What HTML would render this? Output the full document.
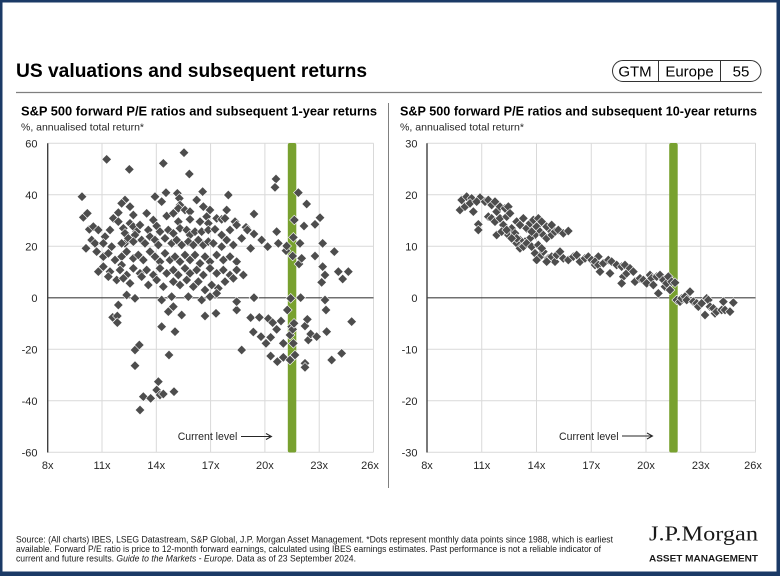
<!DOCTYPE html>
<html><head><meta charset="utf-8"><style>
html,body{margin:0;padding:0;background:#fff;}
svg{display:block;font-family:"Liberation Sans",Arial,sans-serif;}
</style></head><body>
<svg width="780" height="576" viewBox="0 0 780 576" xmlns="http://www.w3.org/2000/svg">
<defs>
<path id="d" d="M0,-14.5L14.5,0L0,14.5L-14.5,0Z" fill="#4d4d4d" stroke="#fff" stroke-width="1.8"/>
</defs>
<rect width="780" height="576" fill="#fff"/>
<rect x="1.2" y="1.2" width="777.6" height="573.6" fill="none" stroke="#1b3a66" stroke-width="2.6"/>
<rect x="0" y="571.5" width="780" height="4.5" fill="#1b3a66"/>
<rect x="776.5" y="0" width="3.5" height="576" fill="#1b3a66"/>

<text x="16" y="77" font-size="19" font-weight="bold" fill="#000" textLength="351" lengthAdjust="spacingAndGlyphs">US valuations and subsequent returns</text>
<line x1="16" y1="92.5" x2="762" y2="92.5" stroke="#7f7f7f" stroke-width="1.2"/>
<rect x="612.5" y="60.5" width="148.5" height="21" rx="10.5" fill="#fff" stroke="#333" stroke-width="1"/>
<line x1="658.5" y1="60.5" x2="658.5" y2="81.5" stroke="#333" stroke-width="1"/>
<line x1="720.5" y1="60.5" x2="720.5" y2="81.5" stroke="#333" stroke-width="1"/>
<text x="635" y="76.5" font-size="15" text-anchor="middle" fill="#000">GTM</text>
<text x="689.5" y="76.5" font-size="15" text-anchor="middle" fill="#000">Europe</text>
<text x="741" y="76.5" font-size="15" text-anchor="middle" fill="#000">55</text>

<text x="21" y="115.5" font-size="13" font-weight="bold" textLength="356" lengthAdjust="spacingAndGlyphs">S&amp;P 500 forward P/E ratios and subsequent 1-year returns</text>
<text x="21" y="130.5" font-size="10.5" fill="#262626" textLength="123" lengthAdjust="spacingAndGlyphs">%, annualised total return*</text>
<text x="400" y="115.5" font-size="13" font-weight="bold" textLength="357" lengthAdjust="spacingAndGlyphs">S&amp;P 500 forward P/E ratios and subsequent 10-year returns</text>
<text x="400" y="130.5" font-size="10.5" fill="#262626" textLength="124" lengthAdjust="spacingAndGlyphs">%, annualised total return*</text>

<line x1="388.5" y1="103" x2="388.5" y2="488" stroke="#808080" stroke-width="1"/>

<!-- LEFT CHART -->
<g stroke="#d9d9d9" stroke-width="1">
<line x1="102" y1="143.3" x2="102" y2="452.3"/>
<line x1="156.3" y1="143.3" x2="156.3" y2="452.3"/>
<line x1="210.6" y1="143.3" x2="210.6" y2="452.3"/>
<line x1="264.9" y1="143.3" x2="264.9" y2="452.3"/>
<line x1="319.2" y1="143.3" x2="319.2" y2="452.3"/>
<line x1="373.5" y1="143.3" x2="373.5" y2="452.3"/>
<line x1="47.7" y1="143.3" x2="373.5" y2="143.3"/>
<line x1="47.7" y1="194.8" x2="373.5" y2="194.8"/>
<line x1="47.7" y1="246.3" x2="373.5" y2="246.3"/>
<line x1="47.7" y1="349.3" x2="373.5" y2="349.3"/>
<line x1="47.7" y1="400.8" x2="373.5" y2="400.8"/>
<line x1="47.7" y1="452.3" x2="373.5" y2="452.3"/>
</g>
<line x1="47.7" y1="297.8" x2="373.5" y2="297.8" stroke="#404040" stroke-width="1.2"/>
<line x1="47.7" y1="143.3" x2="47.7" y2="452.5" stroke="#404040" stroke-width="1.4"/>
<rect x="287.8" y="143" width="8.5" height="309.5" rx="2" fill="#78a12f"/>
<g font-size="11" fill="#262626" text-anchor="end">
<text x="37.5" y="147.3">60</text><text x="37.5" y="198.8">40</text><text x="37.5" y="250.3">20</text><text x="37.5" y="301.8">0</text><text x="37.5" y="353.3">-20</text><text x="37.5" y="404.8">-40</text><text x="37.5" y="456.3">-60</text>
</g>
<g font-size="11" fill="#262626" text-anchor="middle">
<text x="47.7" y="469">8x</text><text x="102" y="469">11x</text><text x="156.3" y="469">14x</text><text x="210.6" y="469">17x</text><text x="264.9" y="469">20x</text><text x="319.2" y="469">23x</text><text x="370" y="469">26x</text>
</g>
<text x="177.7" y="440" font-size="11" fill="#262626" textLength="59.6" lengthAdjust="spacingAndGlyphs">Current level</text>
<g stroke="#262626" stroke-width="1" fill="none"><line x1="241" y1="436.5" x2="271" y2="436.5"/><polyline points="266,433.5 271.5,436.5 266,439.5"/></g>

<g transform="translate(0,130) scale(0.333333)">
<use href="#d" x="246" y="200"/><use href="#d" x="250" y="262"/><use href="#d" x="262" y="250"/><use href="#d" x="268" y="298"/><use href="#d" x="258" y="355"/>
<use href="#d" x="320" y="88"/><use href="#d" x="388" y="118"/><use href="#d" x="490" y="100"/><use href="#d" x="552" y="68"/><use href="#d" x="568" y="132"/>
<use href="#d" x="762" y="252"/><use href="#d" x="738" y="292"/><use href="#d" x="742" y="300"/><use href="#d" x="762" y="312"/><use href="#d" x="752" y="355"/><use href="#d" x="730" y="435"/><use href="#d" x="725" y="325"/><use href="#d" x="785" y="330"/><use href="#d" x="803" y="350"/><use href="#d" x="830" y="305"/><use href="#d" x="835" y="340"/><use href="#d" x="858" y="362"/><use href="#d" x="860" y="348"/><use href="#d" x="828" y="147"/><use href="#d" x="825" y="172"/><use href="#d" x="880" y="322"/><use href="#d" x="878" y="378"/><use href="#d" x="883" y="270"/><use href="#d" x="895" y="188"/><use href="#d" x="900" y="340"/><use href="#d" x="897" y="402"/><use href="#d" x="905" y="385"/><use href="#d" x="912" y="288"/><use href="#d" x="920" y="222"/><use href="#d" x="945" y="283"/><use href="#d" x="945" y="378"/><use href="#d" x="960" y="263"/><use href="#d" x="965" y="457"/><use href="#d" x="968" y="340"/><use href="#d" x="968" y="410"/><use href="#d" x="975" y="435"/><use href="#d" x="1003" y="365"/><use href="#d" x="1015" y="425"/><use href="#d" x="1045" y="425"/><use href="#d" x="1028" y="447"/><use href="#d" x="762" y="503"/><use href="#d" x="872" y="505"/><use href="#d" x="902" y="503"/><use href="#d" x="975" y="510"/><use href="#d" x="978" y="540"/><use href="#d" x="862" y="540"/>
<use href="#d" x="338" y="562"/><use href="#d" x="352" y="558"/><use href="#d" x="352" y="578"/><use href="#d" x="405" y="660"/><use href="#d" x="418" y="645"/><use href="#d" x="405" y="707"/><use href="#d" x="430" y="800"/><use href="#d" x="452" y="805"/><use href="#d" x="420" y="840"/><use href="#d" x="475" y="755"/><use href="#d" x="470" y="780"/><use href="#d" x="480" y="795"/><use href="#d" x="490" y="792"/><use href="#d" x="522" y="785"/><use href="#d" x="485" y="590"/><use href="#d" x="525" y="605"/><use href="#d" x="507" y="675"/><use href="#d" x="505" y="545"/><use href="#d" x="545" y="555"/><use href="#d" x="615" y="558"/><use href="#d" x="648" y="550"/><use href="#d" x="725" y="660"/><use href="#d" x="710" y="540"/><use href="#d" x="752" y="563"/><use href="#d" x="760" y="606"/><use href="#d" x="778" y="562"/><use href="#d" x="805" y="566"/><use href="#d" x="783" y="620"/><use href="#d" x="798" y="640"/><use href="#d" x="812" y="622"/><use href="#d" x="818" y="578"/><use href="#d" x="830" y="598"/><use href="#d" x="843" y="573"/><use href="#d" x="812" y="678"/><use href="#d" x="832" y="695"/><use href="#d" x="850" y="682"/><use href="#d" x="850" y="640"/><use href="#d" x="875" y="590"/><use href="#d" x="870" y="615"/><use href="#d" x="878" y="598"/><use href="#d" x="882" y="580"/><use href="#d" x="880" y="640"/><use href="#d" x="885" y="675"/><use href="#d" x="870" y="690"/><use href="#d" x="915" y="588"/><use href="#d" x="922" y="568"/><use href="#d" x="925" y="630"/><use href="#d" x="915" y="700"/><use href="#d" x="915" y="712"/><use href="#d" x="932" y="612"/><use href="#d" x="950" y="620"/><use href="#d" x="980" y="605"/><use href="#d" x="995" y="690"/><use href="#d" x="1025" y="670"/><use href="#d" x="1055" y="575"/>
</g>
<g transform="translate(90,190) scale(0.333333)">
<use href="#d" x="195" y="20"/><use href="#d" x="228" y="8"/><use href="#d" x="262" y="10"/><use href="#d" x="268" y="25"/><use href="#d" x="338" y="5"/><use href="#d" x="415" y="15"/>
<use href="#d" x="105" y="30"/><use href="#d" x="95" y="40"/><use href="#d" x="120" y="50"/><use href="#d" x="270" y="45"/><use href="#d" x="265" y="55"/><use href="#d" x="285" y="60"/><use href="#d" x="300" y="65"/><use href="#d" x="340" y="50"/><use href="#d" x="85" y="68"/><use href="#d" x="70" y="85"/><use href="#d" x="85" y="95"/><use href="#d" x="230" y="78"/><use href="#d" x="265" y="95"/><use href="#d" x="350" y="80"/><use href="#d" x="380" y="85"/><use href="#d" x="395" y="88"/><use href="#d" x="405" y="85"/><use href="#d" x="300" y="88"/><use href="#d" x="330" y="95"/><use href="#d" x="355" y="100"/><use href="#d" x="435" y="95"/>
<use href="#d" x="130" y="75"/><use href="#d" x="170" y="70"/><use href="#d" x="190" y="90"/><use href="#d" x="60" y="120"/><use href="#d" x="45" y="140"/><use href="#d" x="215" y="35"/><use href="#d" x="250" y="70"/><use href="#d" x="320" y="30"/><use href="#d" x="360" y="60"/><use href="#d" x="410" y="60"/>
<use href="#d" x="10" y="110"/><use href="#d" x="25" y="120"/><use href="#d" x="120" y="100"/><use href="#d" x="130" y="110"/><use href="#d" x="150" y="105"/><use href="#d" x="100" y="115"/><use href="#d" x="105" y="130"/><use href="#d" x="140" y="125"/><use href="#d" x="175" y="120"/><use href="#d" x="200" y="108"/><use href="#d" x="210" y="125"/><use href="#d" x="235" y="120"/><use href="#d" x="250" y="130"/><use href="#d" x="270" y="115"/><use href="#d" x="290" y="120"/><use href="#d" x="300" y="135"/><use href="#d" x="315" y="125"/><use href="#d" x="335" y="125"/><use href="#d" x="355" y="120"/><use href="#d" x="375" y="118"/><use href="#d" x="395" y="135"/><use href="#d" x="420" y="120"/><use href="#d" x="440" y="105"/>
<use href="#d" x="135" y="135"/><use href="#d" x="105" y="160"/>
<use href="#d" x="5" y="150"/><use href="#d" x="15" y="160"/><use href="#d" x="40" y="160"/><use href="#d" x="65" y="170"/><use href="#d" x="95" y="160"/><use href="#d" x="115" y="145"/><use href="#d" x="130" y="155"/><use href="#d" x="155" y="150"/><use href="#d" x="165" y="160"/><use href="#d" x="180" y="140"/><use href="#d" x="195" y="150"/><use href="#d" x="205" y="165"/><use href="#d" x="225" y="145"/><use href="#d" x="245" y="160"/><use href="#d" x="260" y="150"/><use href="#d" x="275" y="165"/><use href="#d" x="295" y="155"/><use href="#d" x="310" y="165"/><use href="#d" x="325" y="150"/><use href="#d" x="340" y="165"/><use href="#d" x="355" y="155"/><use href="#d" x="370" y="160"/><use href="#d" x="395" y="170"/><use href="#d" x="410" y="150"/><use href="#d" x="430" y="165"/>
<use href="#d" x="20" y="185"/><use href="#d" x="40" y="200"/><use href="#d" x="55" y="190"/><use href="#d" x="75" y="210"/><use href="#d" x="95" y="200"/><use href="#d" x="110" y="185"/><use href="#d" x="130" y="205"/><use href="#d" x="145" y="195"/><use href="#d" x="160" y="210"/><use href="#d" x="180" y="185"/><use href="#d" x="195" y="200"/><use href="#d" x="210" y="215"/><use href="#d" x="225" y="190"/><use href="#d" x="240" y="210"/><use href="#d" x="255" y="200"/><use href="#d" x="270" y="215"/><use href="#d" x="285" y="195"/><use href="#d" x="300" y="210"/><use href="#d" x="315" y="195"/><use href="#d" x="330" y="220"/><use href="#d" x="345" y="200"/><use href="#d" x="360" y="215"/><use href="#d" x="380" y="195"/><use href="#d" x="400" y="210"/><use href="#d" x="420" y="200"/><use href="#d" x="440" y="215"/>
<use href="#d" x="95" y="225"/>
<use href="#d" x="25" y="245"/><use href="#d" x="40" y="230"/><use href="#d" x="60" y="245"/><use href="#d" x="90" y="240"/><use href="#d" x="110" y="255"/><use href="#d" x="130" y="235"/><use href="#d" x="150" y="250"/><use href="#d" x="170" y="240"/><use href="#d" x="190" y="255"/><use href="#d" x="210" y="235"/><use href="#d" x="230" y="250"/><use href="#d" x="250" y="240"/><use href="#d" x="265" y="255"/><use href="#d" x="285" y="235"/><use href="#d" x="300" y="250"/><use href="#d" x="320" y="240"/><use href="#d" x="340" y="255"/><use href="#d" x="360" y="235"/><use href="#d" x="380" y="250"/><use href="#d" x="400" y="240"/><use href="#d" x="420" y="255"/><use href="#d" x="440" y="240"/>
<use href="#d" x="55" y="260"/><use href="#d" x="80" y="270"/>
<use href="#d" x="100" y="265"/><use href="#d" x="120" y="280"/><use href="#d" x="155" y="260"/><use href="#d" x="175" y="285"/><use href="#d" x="200" y="270"/><use href="#d" x="220" y="290"/><use href="#d" x="250" y="275"/><use href="#d" x="270" y="285"/><use href="#d" x="290" y="270"/><use href="#d" x="310" y="290"/><use href="#d" x="325" y="275"/><use href="#d" x="345" y="300"/><use href="#d" x="365" y="285"/><use href="#d" x="385" y="295"/><use href="#d" x="405" y="275"/><use href="#d" x="430" y="265"/>
<use href="#d" x="110" y="315"/><use href="#d" x="135" y="325"/><use href="#d" x="215" y="330"/><use href="#d" x="245" y="320"/><use href="#d" x="295" y="320"/><use href="#d" x="335" y="330"/><use href="#d" x="360" y="320"/><use href="#d" x="380" y="310"/><use href="#d" x="440" y="335"/><use href="#d" x="85" y="345"/><use href="#d" x="250" y="350"/>
</g>

<!-- RIGHT CHART -->
<g stroke="#d9d9d9" stroke-width="1">
<line x1="481.75" y1="143.3" x2="481.75" y2="452.3"/>
<line x1="536.5" y1="143.3" x2="536.5" y2="452.3"/>
<line x1="591.25" y1="143.3" x2="591.25" y2="452.3"/>
<line x1="646" y1="143.3" x2="646" y2="452.3"/>
<line x1="700.75" y1="143.3" x2="700.75" y2="452.3"/>
<line x1="755.5" y1="143.3" x2="755.5" y2="452.3"/>
<line x1="427" y1="143.3" x2="755.5" y2="143.3"/>
<line x1="427" y1="194.8" x2="755.5" y2="194.8"/>
<line x1="427" y1="246.3" x2="755.5" y2="246.3"/>
<line x1="427" y1="349.3" x2="755.5" y2="349.3"/>
<line x1="427" y1="400.8" x2="755.5" y2="400.8"/>
<line x1="427" y1="452.3" x2="755.5" y2="452.3"/>
</g>
<line x1="427" y1="297.8" x2="755.5" y2="297.8" stroke="#404040" stroke-width="1.2"/>
<line x1="427" y1="143.3" x2="427" y2="452.5" stroke="#404040" stroke-width="1.4"/>
<rect x="669.2" y="143" width="8.5" height="309.5" rx="2" fill="#78a12f"/>
<g font-size="11" fill="#262626" text-anchor="end">
<text x="417.5" y="147.3">30</text><text x="417.5" y="198.8">20</text><text x="417.5" y="250.3">10</text><text x="417.5" y="301.8">0</text><text x="417.5" y="353.3">-10</text><text x="417.5" y="404.8">-20</text><text x="417.5" y="456.3">-30</text>
</g>
<g font-size="11" fill="#262626" text-anchor="middle">
<text x="427" y="469">8x</text><text x="481.75" y="469">11x</text><text x="536.5" y="469">14x</text><text x="591.25" y="469">17x</text><text x="646" y="469">20x</text><text x="700.75" y="469">23x</text><text x="753" y="469">26x</text>
</g>
<text x="559" y="440" font-size="11" fill="#262626" textLength="59.6" lengthAdjust="spacingAndGlyphs">Current level</text>
<g stroke="#262626" stroke-width="1" fill="none"><line x1="622" y1="436" x2="652" y2="436"/><polyline points="647,433 652.5,436 647,439"/></g>

<g transform="translate(420,185) scale(0.333333)">
<use href="#d" x="125" y="45"/><use href="#d" x="140" y="35"/><use href="#d" x="155" y="40"/><use href="#d" x="180" y="38"/><use href="#d" x="120" y="75"/><use href="#d" x="135" y="65"/><use href="#d" x="150" y="55"/><use href="#d" x="160" y="80"/><use href="#d" x="170" y="50"/><use href="#d" x="195" y="50"/><use href="#d" x="205" y="45"/><use href="#d" x="215" y="60"/><use href="#d" x="225" y="50"/><use href="#d" x="230" y="80"/><use href="#d" x="240" y="65"/><use href="#d" x="255" y="70"/><use href="#d" x="265" y="65"/><use href="#d" x="205" y="95"/><use href="#d" x="215" y="100"/><use href="#d" x="225" y="110"/><use href="#d" x="240" y="100"/><use href="#d" x="250" y="120"/><use href="#d" x="260" y="95"/><use href="#d" x="270" y="85"/><use href="#d" x="175" y="118"/><use href="#d" x="175" y="135"/><use href="#d" x="230" y="150"/><use href="#d" x="245" y="140"/><use href="#d" x="265" y="150"/><use href="#d" x="275" y="130"/><use href="#d" x="285" y="145"/><use href="#d" x="290" y="110"/><use href="#d" x="300" y="120"/><use href="#d" x="310" y="100"/><use href="#d" x="320" y="130"/><use href="#d" x="330" y="115"/><use href="#d" x="340" y="105"/><use href="#d" x="350" y="125"/><use href="#d" x="360" y="140"/><use href="#d" x="345" y="150"/><use href="#d" x="330" y="160"/><use href="#d" x="315" y="170"/><use href="#d" x="300" y="165"/><use href="#d" x="290" y="175"/><use href="#d" x="300" y="190"/><use href="#d" x="310" y="185"/><use href="#d" x="320" y="175"/><use href="#d" x="335" y="185"/><use href="#d" x="355" y="180"/><use href="#d" x="370" y="150"/><use href="#d" x="380" y="160"/><use href="#d" x="390" y="135"/><use href="#d" x="395" y="150"/><use href="#d" x="405" y="140"/><use href="#d" x="415" y="135"/><use href="#d" x="430" y="145"/><use href="#d" x="445" y="138"/><use href="#d" x="345" y="205"/><use href="#d" x="360" y="215"/><use href="#d" x="370" y="200"/><use href="#d" x="385" y="220"/><use href="#d" x="395" y="215"/><use href="#d" x="405" y="230"/><use href="#d" x="410" y="210"/><use href="#d" x="420" y="200"/><use href="#d" x="430" y="220"/><use href="#d" x="445" y="225"/><use href="#d" x="460" y="215"/><use href="#d" x="470" y="210"/><use href="#d" x="480" y="230"/><use href="#d" x="495" y="220"/><use href="#d" x="505" y="215"/><use href="#d" x="515" y="225"/><use href="#d" x="525" y="240"/><use href="#d" x="535" y="215"/><use href="#d" x="380" y="230"/><use href="#d" x="350" y="225"/><use href="#d" x="365" y="190"/><use href="#d" x="290" y="160"/><use href="#d" x="275" y="160"/><use href="#d" x="260" y="135"/><use href="#d" x="335" y="140"/><use href="#d" x="355" y="100"/><use href="#d" x="365" y="110"/><use href="#d" x="380" y="125"/><use href="#d" x="395" y="120"/>
</g>
<g transform="translate(590,250) scale(0.333333)">
<use href="#d" x="15" y="35"/><use href="#d" x="25" y="45"/><use href="#d" x="30" y="65"/><use href="#d" x="40" y="40"/><use href="#d" x="55" y="30"/><use href="#d" x="60" y="70"/><use href="#d" x="65" y="35"/><use href="#d" x="80" y="45"/><use href="#d" x="95" y="50"/><use href="#d" x="100" y="80"/><use href="#d" x="105" y="45"/><use href="#d" x="110" y="70"/><use href="#d" x="120" y="55"/><use href="#d" x="130" y="65"/><use href="#d" x="135" y="95"/><use href="#d" x="95" y="100"/><use href="#d" x="150" y="85"/><use href="#d" x="160" y="90"/><use href="#d" x="170" y="100"/><use href="#d" x="180" y="75"/><use href="#d" x="185" y="85"/><use href="#d" x="190" y="105"/><use href="#d" x="200" y="80"/><use href="#d" x="205" y="130"/><use href="#d" x="210" y="75"/><use href="#d" x="220" y="90"/><use href="#d" x="225" y="110"/><use href="#d" x="230" y="100"/><use href="#d" x="235" y="80"/><use href="#d" x="240" y="120"/><use href="#d" x="245" y="95"/><use href="#d" x="255" y="98"/><use href="#d" x="260" y="150"/><use href="#d" x="270" y="155"/><use href="#d" x="275" y="145"/><use href="#d" x="285" y="140"/><use href="#d" x="290" y="150"/><use href="#d" x="300" y="125"/><use href="#d" x="310" y="155"/><use href="#d" x="320" y="160"/><use href="#d" x="325" y="170"/><use href="#d" x="335" y="160"/><use href="#d" x="345" y="195"/><use href="#d" x="350" y="145"/><use href="#d" x="355" y="150"/><use href="#d" x="360" y="170"/><use href="#d" x="370" y="175"/><use href="#d" x="375" y="190"/><use href="#d" x="380" y="185"/><use href="#d" x="395" y="180"/><use href="#d" x="400" y="155"/><use href="#d" x="405" y="180"/><use href="#d" x="420" y="185"/><use href="#d" x="430" y="158"/>
</g>

<!-- FOOTER -->
<g font-size="9" fill="#1a1a1a">
<text x="16" y="542.5" textLength="597" lengthAdjust="spacingAndGlyphs">Source: (All charts) IBES, LSEG Datastream, S&amp;P Global, J.P. Morgan Asset Management. *Dots represent monthly data points since 1988, which is earliest</text>
<text x="16" y="552" textLength="585" lengthAdjust="spacingAndGlyphs">available. Forward P/E ratio is price to 12-month forward earnings, calculated using IBES earnings estimates. Past performance is not a reliable indicator of</text>
<text x="16" y="561.5" textLength="340" lengthAdjust="spacingAndGlyphs">current and future results. <tspan font-style="italic">Guide to the Markets - Europe.</tspan> Data as of 23 September 2024.</text>
</g>
<text x="649" y="540.5" font-family="'Liberation Serif',serif" font-size="21" fill="#1a1a1a" textLength="109" lengthAdjust="spacingAndGlyphs">J.P.Morgan</text>
<text x="649" y="561.7" font-size="9.3" font-weight="bold" fill="#1a1a1a" textLength="109" lengthAdjust="spacingAndGlyphs">ASSET MANAGEMENT</text>
</svg>
</body></html>
